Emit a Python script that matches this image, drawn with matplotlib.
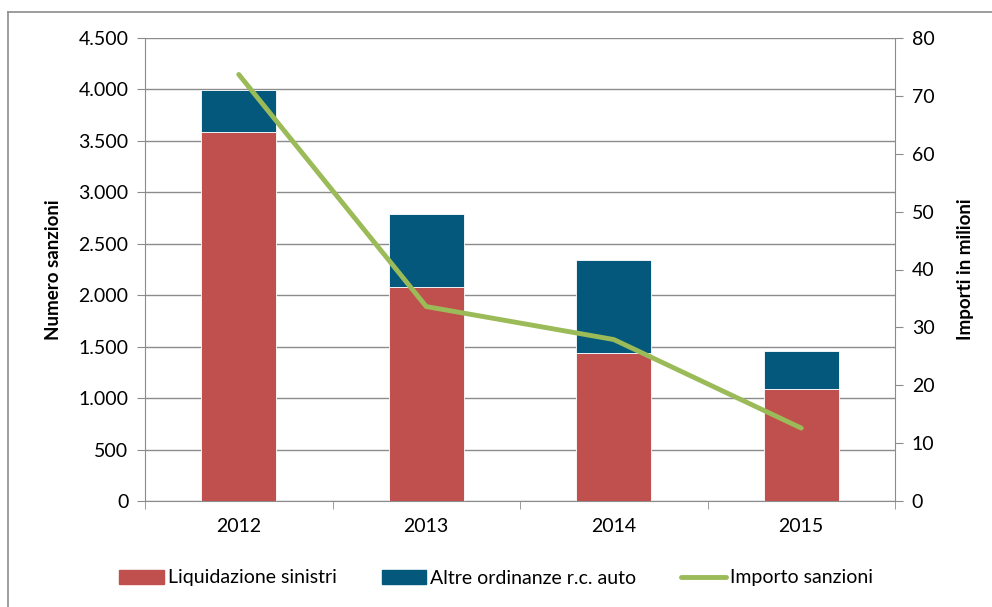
import matplotlib.pyplot as plt
from matplotlib.patches import Rectangle
from matplotlib.lines import Line2D

years = ["2012", "2013", "2014", "2015"]
liquidazione = [3585, 2080, 1440, 1090]
altre = [405, 710, 905, 370]
importo = [73.7, 33.6, 27.9, 12.6]

red = "#C0504D"
blue = "#03587C"
green = "#9BBB59"
grid = "#8C8C8C"

plt.rcParams["font.family"] = ["Lato", "DejaVu Sans"]
plt.rcParams["font.size"] = 14

fig = plt.figure(figsize=(9.92, 6.07), dpi=100)
ax = fig.add_axes([145 / 992, 1 - 501 / 607, 750 / 992, 463 / 607])
ax2 = ax.twinx()

x = list(range(len(years)))
ax.bar(x, liquidazione, width=0.4, color=red, edgecolor="white", linewidth=0.6, zorder=3)
ax.bar(x, altre, width=0.4, bottom=liquidazione, color=blue, edgecolor="white", linewidth=0.6, zorder=3)
ax2.plot(x, importo, color=green, lw=3.5, solid_capstyle="round", zorder=4)

ax.set_xlim(-0.5, 3.5)
ax.set_ylim(0, 4500)
ax2.set_ylim(0, 80)
ax.set_yticks(range(0, 4501, 500))
ax.set_yticklabels([f"{v:,}".replace(",", ".") for v in range(0, 4501, 500)])
ax2.set_yticks(range(0, 81, 10))
ax.set_xticks(x)
ax.set_xticklabels(years)
ax.set_xticks([-0.5, 0.5, 1.5, 2.5, 3.5], minor=True)
ax.tick_params(axis="x", which="major", length=0, pad=12)
ax.tick_params(axis="x", which="minor", length=6, color=grid)
ax.tick_params(axis="y", length=6, color=grid, pad=6)
ax2.tick_params(axis="y", length=6, color=grid, pad=6)
ax.yaxis.grid(True, color=grid, lw=1, zorder=0)
ax.set_axisbelow(True)

for a in (ax, ax2):
    for s in a.spines.values():
        s.set_visible(False)
ax.spines["left"].set_visible(True)
ax.spines["left"].set_color(grid)
ax.spines["bottom"].set_visible(True)
ax.spines["bottom"].set_color(grid)
ax2.spines["right"].set_visible(True)
ax2.spines["right"].set_color(grid)

ax.set_ylabel("Numero sanzioni", fontweight="bold", labelpad=12, fontsize=13.5)
ax2.set_ylabel("Importi in milioni", fontweight="bold", labelpad=16, fontsize=13.5)

handles = [
    Rectangle((0, 0), 1, 1, color=red),
    Rectangle((0, 0), 1, 1, color=blue),
    Line2D([0], [0], color=green, lw=3.5, solid_capstyle="round"),
]
labels = ["Liquidazione sinistri", "Altre ordinanze r.c. auto", "Importo sanzioni"]
fig.legend(handles, labels, loc="center", bbox_to_anchor=(0.5, 1 - 578 / 607), ncol=3,
           frameon=False, handlelength=2.3, handleheight=0.75, handletextpad=0.2, columnspacing=2.3)

# chart frame
fig.add_artist(Line2D([8 / 992, 8 / 992], [0, 1 - 12 / 607], color="#8C8C8C", lw=1.2, transform=fig.transFigure))
fig.add_artist(Line2D([8 / 992, 1], [1 - 12 / 607, 1 - 12 / 607], color="#8C8C8C", lw=1.2, transform=fig.transFigure))

fig.savefig("out.png", dpi=100)
